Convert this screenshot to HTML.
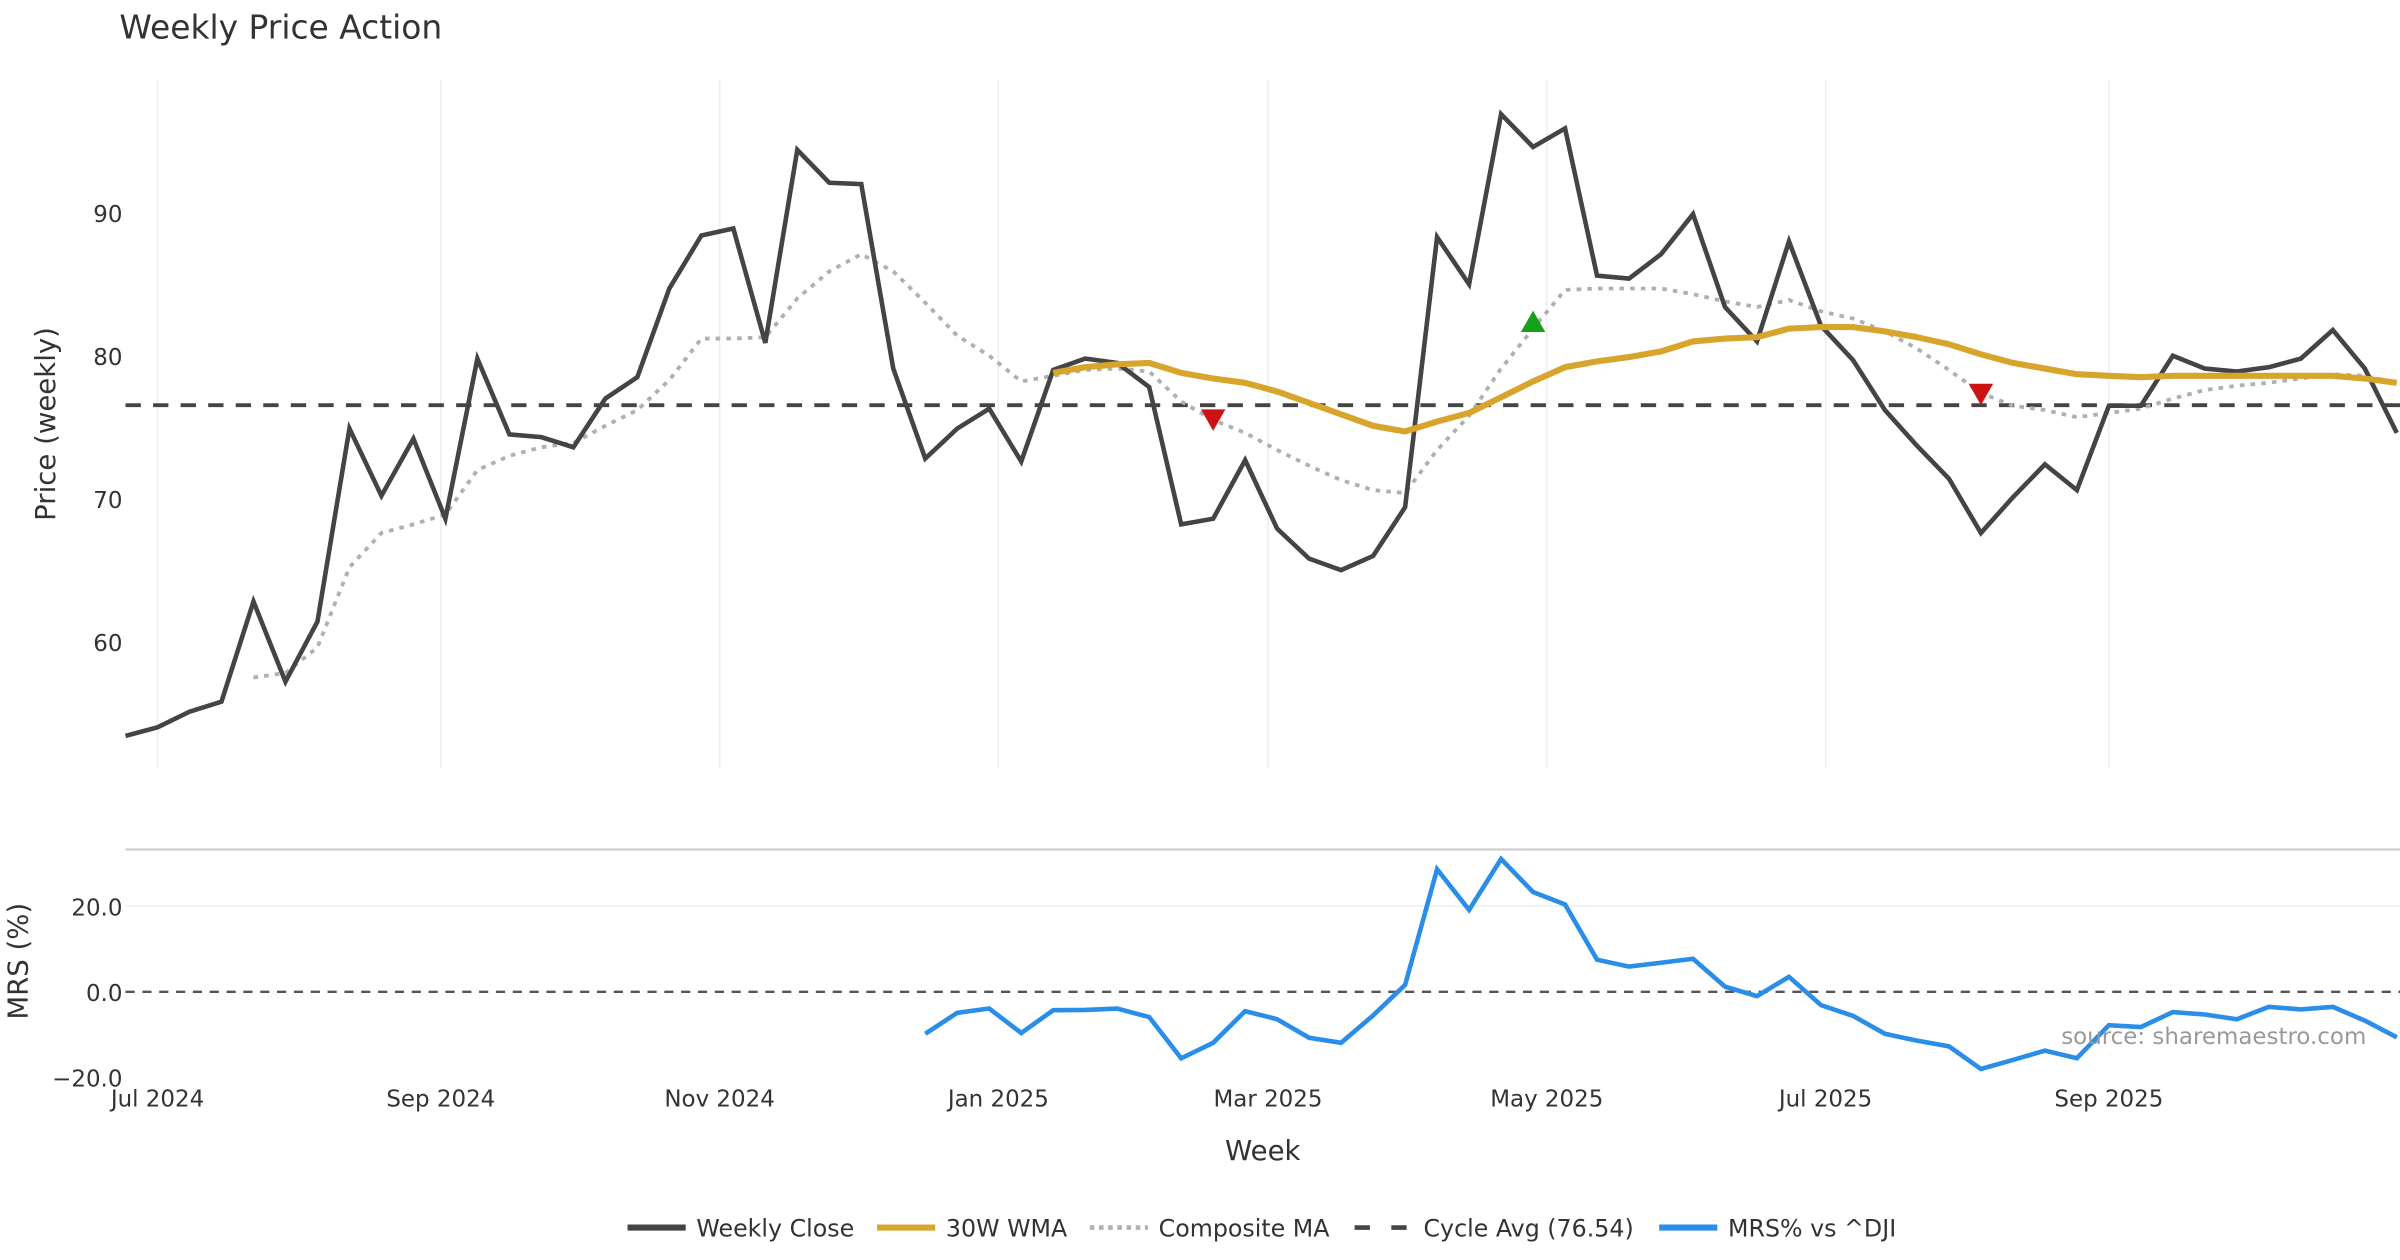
<!DOCTYPE html>
<html><head><meta charset="utf-8"><style>
html,body{margin:0;padding:0;background:#fff;}
svg{display:block;font-family:"DejaVu Sans","Liberation Sans",sans-serif;}
</style></head><body>
<svg id="chart" width="2400" height="1260" viewBox="0 0 1568 823.2" preserveAspectRatio="none" xmlns="http://www.w3.org/2000/svg">
<text x="78" y="25" font-size="21.5" fill="#333">Weekly Price Action</text>
<g id="grid"></g>
<g id="top"></g>
<g id="bottom"></g>
<text transform="translate(36,277) rotate(-90)" text-anchor="middle" font-size="18" fill="#333">Price (weekly)</text>
<text transform="translate(18,628) rotate(-90)" text-anchor="middle" font-size="18" fill="#333">MRS (%)</text>
<text x="825" y="758" text-anchor="middle" font-size="18" fill="#333">Week</text>
<text x="1546" y="682" text-anchor="end" font-size="15" fill="#999">source: sharemaestro.com</text>
<g id="legend"></g>
</svg>
<script>
const weeklyClose=[53.4,54.0,55.1,55.8,62.8,57.2,61.4,74.9,70.2,74.2,68.6,79.8,74.5,74.3,73.6,77.0,78.5,84.7,88.4,88.9,80.9,94.4,92.1,92.0,79.1,72.8,74.9,76.3,72.6,79.0,79.8,79.5,77.8,68.2,68.6,72.7,67.9,65.8,65.0,66.0,69.4,88.3,85.0,96.9,94.6,95.9,85.6,85.4,87.1,89.9,83.4,81.0,88.0,82.1,79.7,76.2,73.7,71.4,67.6,70.1,72.4,70.6,76.5,76.5,80.0,79.1,78.9,79.2,79.8,81.8,79.1,74.6];
const compositeMA=[null,null,null,null,57.5,57.8,59.6,65.2,67.6,68.2,68.9,72.0,73.0,73.6,73.9,75.1,76.2,78.3,81.2,81.2,81.3,84.0,85.9,87.1,85.9,83.7,81.4,80.0,78.2,78.6,79.0,79.1,78.9,76.8,75.5,74.6,73.4,72.3,71.3,70.6,70.4,73.4,75.8,79.1,81.9,84.6,84.7,84.7,84.7,84.3,83.8,83.4,83.9,83.1,82.6,81.7,80.5,79.0,77.4,76.5,76.2,75.7,76.0,76.3,77.0,77.6,77.9,78.1,78.4,78.7,78.6,78.1];
const wma30=[null,null,null,null,null,null,null,null,null,null,null,null,null,null,null,null,null,null,null,null,null,null,null,null,null,null,null,null,null,78.8,79.2,79.4,79.5,78.8,78.4,78.1,77.5,76.7,75.9,75.1,74.7,75.4,76.0,77.1,78.2,79.2,79.6,79.9,80.3,81.0,81.2,81.3,81.9,82.0,82.0,81.7,81.3,80.8,80.1,79.5,79.1,78.7,78.6,78.5,78.6,78.6,78.6,78.6,78.6,78.6,78.4,78.1];
const mrs=[null,null,null,null,null,null,null,null,null,null,null,null,null,null,null,null,null,null,null,null,null,null,null,null,null,-9.8,-4.9,-3.9,-9.6,-4.3,-4.2,-3.9,-5.9,-15.5,-11.9,-4.5,-6.4,-10.7,-11.9,-5.5,1.6,28.6,19.1,31.0,23.3,20.4,7.5,5.9,6.8,7.7,1.2,-1.0,3.5,-3.1,-5.6,-9.8,-11.4,-12.7,-18.0,-15.9,-13.7,-15.5,-7.8,-8.2,-4.7,-5.3,-6.4,-3.5,-4.1,-3.5,-6.7,-10.6];
const cycleAvg=76.54;
const signalIdx=[34,44,58];
const signalType=["sell","buy","sell"];
const signalVal=[75.6,82.3,77.4];
const priceTicks=[60,70,80,90];
const mrsTicks=[20,0,-20];
const mrsTickLabels=["20.0","0.0","\u221220.0"];
const monthLabels=["Jul 2024","Sep 2024","Nov 2024","Jan 2025","Mar 2025","May 2025","Jul 2025","Sep 2025"];
const monthDates=["2024-07-01","2024-09-01","2024-11-01","2025-01-01","2025-03-01","2025-05-01","2025-07-01","2025-09-01"];

const NS="http://www.w3.org/2000/svg";
function X(i){return 82+i*20.9;}
function Y(v){return 232.4-(v-80)*9.34;}
function YM(v){return 648-v*2.8;}
function dateIdx(s){return 1+(Date.parse(s)-Date.parse("2024-07-01"))/86400000/7;}
function mk(tag,attrs,parent){const e=document.createElementNS(NS,tag);for(const k in attrs)e.setAttribute(k,attrs[k]);parent.appendChild(e);return e;}
const grid=document.getElementById('grid'),top_=document.getElementById('top'),bot=document.getElementById('bottom'),leg=document.getElementById('legend');

monthDates.forEach((d,k)=>{
  const x=X(dateIdx(d));
  const g=mk('line',{x1:x,x2:x,y1:52,y2:502,stroke:'#eceff3','stroke-width':1},grid);
  
  
  const t=mk('text',{x:x,y:723,'text-anchor':'middle','font-size':15,fill:'#333'},grid);
  t.textContent=monthLabels[k];
  
  
});
priceTicks.forEach(v=>{
  const t=mk('text',{x:80,y:Y(v)+6,'text-anchor':'end','font-size':15,fill:'#333'},grid);
  t.textContent=v;
  
  
});
function path(arr,yf){let d='',pen=false;arr.forEach((v,i)=>{if(v==null){pen=false;return;}d+=(pen?'L':'M')+X(i).toFixed(1)+','+yf(v).toFixed(1);pen=true;});return d;}

const cyc=mk('line',{x1:82,x2:1568,y1:Y(cycleAvg),y2:Y(cycleAvg),stroke:'#444','stroke-width':2.5,'stroke-dasharray':'10,8'},top_);


const cm=mk('path',{d:path(compositeMA,Y),fill:'none',stroke:'#b0b0b0','stroke-width':2.5,'stroke-dasharray':'3,4'},top_);


const wc=mk('path',{d:path(weeklyClose,Y),fill:'none',stroke:'#444','stroke-width':3,'stroke-linejoin':'miter'},top_);


const wm=mk('path',{d:path(wma30,Y),fill:'none',stroke:'#d8a52c','stroke-width':4,'stroke-linejoin':'round'},top_);


signalIdx.forEach((i,k)=>{
  const x=X(i),y=Y(signalVal[k]);
  const pts=signalType[k]==='buy'?`${x-8},${y+6} ${x+8},${y+6} ${x},${y-8}`:`${x-8},${y-6} ${x+8},${y-6} ${x},${y+8}`;
  const p=mk('polygon',{points:pts,fill:signalType[k]==='buy'?'#17a01a':'#cc1212'},top_);
  
  
});

const bl=mk('line',{x1:82,x2:1568,y1:555,y2:555,stroke:'#cfcfcf','stroke-width':1.5},bot);


const g20=mk('line',{x1:82,x2:1568,y1:YM(20),y2:YM(20),stroke:'#eef0f3','stroke-width':1.2},bot);


const z=mk('line',{x1:82,x2:1568,y1:YM(0),y2:YM(0),stroke:'#555','stroke-width':1.6,'stroke-dasharray':'6,5'},bot);


mrsTicks.forEach((v,k)=>{
  const t=mk('text',{x:80,y:YM(v)+6,'text-anchor':'end','font-size':15,fill:'#333'},bot);
  t.textContent=mrsTickLabels[k];
  
  
});
const ml=mk('path',{d:path(mrs,YM),fill:'none',stroke:'#2a8ee8','stroke-width':3},bot);



const legItems=[["Weekly Close",410,{stroke:'#444','stroke-width':4}],["30W WMA",573,{stroke:'#d8a52c','stroke-width':4}],["Composite MA",712,{stroke:'#b0b0b0','stroke-width':3,'stroke-dasharray':'3,3'}],["Cycle Avg (76.54)",885,{stroke:'#444','stroke-width':3,'stroke-dasharray':'10,14'}],["MRS% vs ^DJI",1084,{stroke:'#2a8ee8','stroke-width':4}]];
legItems.forEach(it=>{
  const a=Object.assign({x1:it[1],x2:it[1]+38,y1:802,y2:802},it[2]);
  const l=mk('line',a,leg);
  
  
  const t=mk('text',{x:it[1]+45,y:808,'font-size':15.5,fill:'#333'},leg);
  t.textContent=it[0];
  
  
});
</script>
</body></html>
